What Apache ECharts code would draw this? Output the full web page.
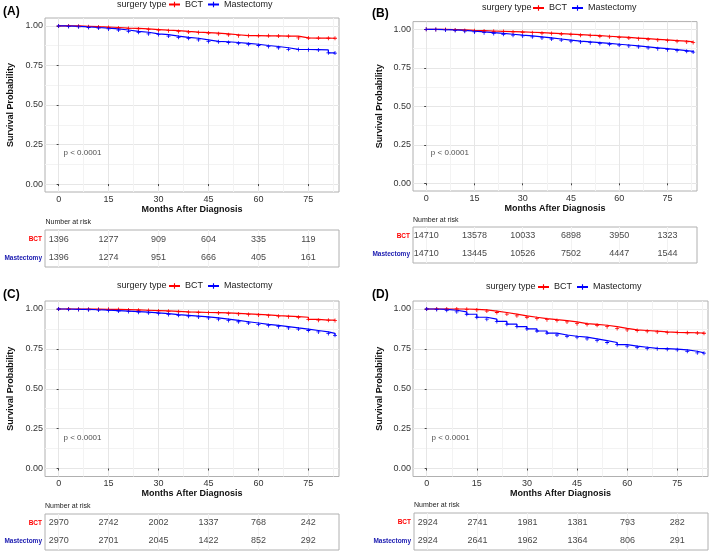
<!DOCTYPE html>
<html>
<head>
<meta charset="utf-8">
<script src="https://cdn.jsdelivr.net/npm/echarts@6.0.0/dist/echarts.min.js"></script>
<style>
  html, body { margin: 0; padding: 0; background: #fff; }
  #chart { width: 709px; height: 552px; }
</style>
</head>
<body>
<div id="chart"></div>
<script>
// survival curves, every 3 months
const months = [0, 3, 6, 9, 12, 15, 18, 21, 24, 27, 30, 33, 36, 39, 42, 45, 48, 51, 54, 57, 60, 63, 66, 69, 72, 75, 78, 81, 83];

const aBct  = [1.000, 1.000, 0.998, 0.995, 0.993, 0.990, 0.986, 0.984, 0.981, 0.977, 0.973, 0.970, 0.965, 0.961, 0.958, 0.955, 0.950, 0.944, 0.938, 0.938, 0.937, 0.937, 0.936, 0.935, 0.924, 0.923, 0.923, 0.922, 0.922];
const aMast = [1.000, 0.997, 0.994, 0.990, 0.986, 0.981, 0.974, 0.966, 0.960, 0.950, 0.945, 0.936, 0.928, 0.922, 0.912, 0.902, 0.900, 0.895, 0.890, 0.884, 0.876, 0.870, 0.862, 0.852, 0.851, 0.850, 0.848, 0.830, 0.828];
const bBct  = [1.000, 0.999, 0.998, 0.996, 0.993, 0.991, 0.989, 0.987, 0.985, 0.983, 0.981, 0.978, 0.975, 0.972, 0.969, 0.966, 0.962, 0.959, 0.955, 0.951, 0.947, 0.943, 0.939, 0.935, 0.931, 0.927, 0.923, 0.918, 0.914];
const bMast = [1.000, 0.998, 0.996, 0.993, 0.988, 0.983, 0.978, 0.973, 0.968, 0.962, 0.957, 0.951, 0.944, 0.937, 0.930, 0.923, 0.918, 0.913, 0.908, 0.903, 0.898, 0.892, 0.886, 0.880, 0.874, 0.868, 0.862, 0.857, 0.852];
const cBct  = [1.000, 1.000, 0.999, 0.999, 0.998, 0.998, 0.996, 0.994, 0.992, 0.990, 0.988, 0.985, 0.982, 0.980, 0.978, 0.977, 0.975, 0.972, 0.969, 0.966, 0.963, 0.958, 0.955, 0.952, 0.948, 0.935, 0.930, 0.930, 0.928];
const cMast = [1.000, 0.998, 0.997, 0.995, 0.993, 0.990, 0.987, 0.984, 0.980, 0.976, 0.971, 0.965, 0.960, 0.955, 0.950, 0.944, 0.936, 0.928, 0.920, 0.912, 0.904, 0.897, 0.889, 0.881, 0.874, 0.865, 0.856, 0.847, 0.835];
const dBct  = [1.000, 1.000, 1.000, 1.000, 0.998, 0.994, 0.987, 0.978, 0.968, 0.957, 0.948, 0.940, 0.933, 0.927, 0.919, 0.908, 0.903, 0.898, 0.889, 0.878, 0.869, 0.865, 0.861, 0.856, 0.853, 0.852, 0.851, 0.849, 0.848];
const dMast = [1.000, 0.997, 0.992, 0.982, 0.967, 0.948, 0.936, 0.922, 0.905, 0.890, 0.875, 0.862, 0.849, 0.837, 0.829, 0.823, 0.813, 0.802, 0.790, 0.777, 0.767, 0.760, 0.753, 0.751, 0.748, 0.744, 0.735, 0.725, 0.723];

// number at risk tables
const riskMonths = [0, 15, 30, 45, 60, 75];
const aRiskBct  = [1396, 1277, 909, 604, 335, 119];
const aRiskMast = [1396, 1274, 951, 666, 405, 161];
const bRiskBct  = [14710, 13578, 10033, 6898, 3950, 1323];
const bRiskMast = [14710, 13445, 10526, 7502, 4447, 1544];
const cRiskBct  = [2970, 2742, 2002, 1337, 768, 242];
const cRiskMast = [2970, 2701, 2045, 1422, 852, 292];
const dRiskBct  = [2924, 2741, 1981, 1381, 793, 282];
const dRiskMast = [2924, 2641, 1962, 1364, 806, 291];

const xTicks = [0, 15, 30, 45, 60, 75];
const xMinor = [7.5, 22.5, 37.5, 52.5, 67.5, 82.5];
const yTicks = [0, 0.25, 0.5, 0.75, 1];
const yMinor = [0.125, 0.375, 0.625, 0.875];
const groups = ['BCT', 'Mastectomy'];
const pText = 'p < 0.0001';

const FONT = '"Liberation Sans", Arial, sans-serif';
const RED = '#ff0000';
const BLUE = '#0000ff';
const NAVY = '#1a1ab0';
const PLUS = 'path://M4,0H6V4H10V6H6V10H4V6H0V4H4Z';
const X_MIN = -4.1, X_MAX = 84.2;

// layout of each panel (pixels)
const panels = [
  { tag: '(A)', bct: aBct, mast: aMast, rb: aRiskBct, rm: aRiskMast,
    plot: { left: 45, right: 370, top: 18, bottom: 360 },
    table: { left: 45, right: 370, top: 230, bottom: 285 },
    tagAt: [3, 13], titleAt: [117, 5.5], riskAt: [45.5, 223], legLeft: 168, legTop: 0, yGap: 30 },
  { tag: '(B)', bct: bBct, mast: bMast, rb: bRiskBct, rm: bRiskMast,
    plot: { left: 413, right: 12, top: 21.6, bottom: 361 },
    table: { left: 413, right: 12, top: 227, bottom: 289 },
    tagAt: [372, 15], titleAt: [482, 9], riskAt: [413, 221], legLeft: 532, legTop: 3.5, yGap: 29 },
  { tag: '(C)', bct: cBct, mast: cMast, rb: cRiskBct, rm: cRiskMast,
    plot: { left: 45, right: 370, top: 301, bottom: 75.5 },
    table: { left: 45, right: 370, top: 514, bottom: 2 },
    tagAt: [3, 296], titleAt: [117, 287], riskAt: [45, 507], legLeft: 168, legTop: 281.5, yGap: 30 },
  { tag: '(D)', bct: dBct, mast: dMast, rb: dRiskBct, rm: dRiskMast,
    plot: { left: 413, right: 1, top: 301, bottom: 75.5 },
    table: { left: 414, right: 1, top: 513, bottom: 2 },
    tagAt: [372, 296], titleAt: [486, 288], riskAt: [414, 506], legLeft: 537, legTop: 282.5, yGap: 29 }
];

const option = {
  animation: false,
  textStyle: { fontFamily: FONT },
  grid: [], xAxis: [], yAxis: [], series: [], legend: [], graphic: []
};

panels.forEach(p => {
  const g = option.grid.length;
  option.grid.push(Object.assign({ show: true, borderColor: '#b0b0b0', borderWidth: 1 }, p.plot));
  option.grid.push(Object.assign({ show: true, borderColor: '#b0b0b0', borderWidth: 1 }, p.table));

  const xi = option.xAxis.length;
  const yi = option.yAxis.length;

  // plot: main + minor x axes
  option.xAxis.push({
    type: 'value', gridIndex: g, min: X_MIN, max: X_MAX,
    name: 'Months After Diagnosis', nameLocation: 'middle', nameGap: 12.5,
    nameTextStyle: { fontWeight: 'bold', fontSize: 9, color: '#111' },
    axisLine: { show: false },
    axisTick: { show: true, length: 2, customValues: xTicks, lineStyle: { color: '#444' } },
    axisLabel: { customValues: xTicks, fontSize: 9, color: '#333', margin: 3 },
    splitLine: { show: true, lineStyle: { color: '#e6e6e6', width: 1 } }
  });
  option.xAxis.push({
    type: 'value', gridIndex: g, min: X_MIN, max: X_MAX,
    axisLine: { show: false },
    axisTick: { show: false, customValues: xMinor },
    axisLabel: { show: false, customValues: xMinor },
    splitLine: { show: true, lineStyle: { color: '#f3f3f3', width: 1 } }
  });
  option.yAxis.push({
    type: 'value', gridIndex: g, min: -0.05, max: 1.05,
    name: 'Survival Probability', nameLocation: 'middle', nameGap: p.yGap,
    nameTextStyle: { fontWeight: 'bold', fontSize: 9, color: '#111' },
    axisLine: { show: false },
    axisTick: { show: true, length: 2, customValues: yTicks, lineStyle: { color: '#444' } },
    axisLabel: { customValues: yTicks, fontSize: 9, color: '#333', margin: 2, formatter: v => v.toFixed(2) },
    splitLine: { show: true, lineStyle: { color: '#e6e6e6', width: 1 } }
  });
  option.yAxis.push({
    type: 'value', gridIndex: g, min: -0.05, max: 1.05,
    axisLine: { show: false },
    axisTick: { show: false, customValues: yMinor },
    axisLabel: { show: false, customValues: yMinor },
    splitLine: { show: true, lineStyle: { color: '#f3f3f3', width: 1 } }
  });

  // risk table axes
  option.xAxis.push({
    type: 'value', gridIndex: g + 1, min: X_MIN, max: X_MAX,
    axisLine: { show: false },
    axisTick: { show: false, customValues: xTicks },
    axisLabel: { show: false },
    splitLine: { show: true, lineStyle: { color: '#f2f2f2', width: 1 } }
  });
  option.yAxis.push({
    type: 'category', gridIndex: g + 1, data: ['Mastectomy', 'BCT'],
    axisLine: { show: false }, axisTick: { show: false },
    axisLabel: { fontSize: 6.5, fontWeight: 'bold', margin: 3, color: v => (v === 'BCT' ? RED : NAVY) },
    splitLine: { show: false }
  });

  const curve = (name, vals, color) => ({
    name, type: 'line', xAxisIndex: xi, yAxisIndex: yi,
    step: 'end', data: months.map((m, k) => [m, vals[k]]),
    symbol: PLUS, symbolSize: 4, showSymbol: true,
    lineStyle: { color, width: 1.2 }, itemStyle: { color }, z: 3
  });
  option.series.push(curve('BCT', p.bct, RED));
  option.series.push(curve('Mastectomy', p.mast, BLUE));

  option.series.push({
    type: 'scatter', xAxisIndex: xi, yAxisIndex: yi,
    data: [[1.3, 0.195]], symbolSize: 1, itemStyle: { color: 'rgba(0,0,0,0)' },
    label: { show: true, position: 'right', distance: 0, formatter: pText, fontSize: 8, color: '#222' }
  });

  const row = (grp, vals) => ({
    type: 'scatter', xAxisIndex: xi + 2, yAxisIndex: yi + 2,
    data: riskMonths.map((m, k) => [m, grp, vals[k]]),
    symbolSize: 1, itemStyle: { color: 'rgba(0,0,0,0)' },
    label: { show: true, position: 'inside', formatter: q => q.value[2], fontSize: 9, color: '#111' }
  });
  option.series.push(row('BCT', p.rb));
  option.series.push(row('Mastectomy', p.rm));

  option.legend.push({
    data: groups, left: p.legLeft, top: p.legTop, padding: 0, itemGap: 4,
    itemWidth: 11, itemHeight: 7, selectedMode: false,
    textStyle: { fontSize: 9, color: '#222' }
  });

  option.graphic.push({
    type: 'text', left: p.tagAt[0], top: p.tagAt[1] - 7,
    style: { text: p.tag, font: 'bold 12px ' + FONT, fill: '#000' }
  });
  option.graphic.push({
    type: 'text', left: p.titleAt[0], top: p.titleAt[1] - 5.5,
    style: { text: 'surgery type', font: '9px ' + FONT, fill: '#222' }
  });
  option.graphic.push({
    type: 'text', left: p.riskAt[0], top: p.riskAt[1] - 4.5,
    style: { text: 'Number at risk', font: '7px ' + FONT, fill: '#222' }
  });
});

const chart = echarts.init(document.getElementById('chart'));
chart.setOption(option);
</script>
</body>
</html>
